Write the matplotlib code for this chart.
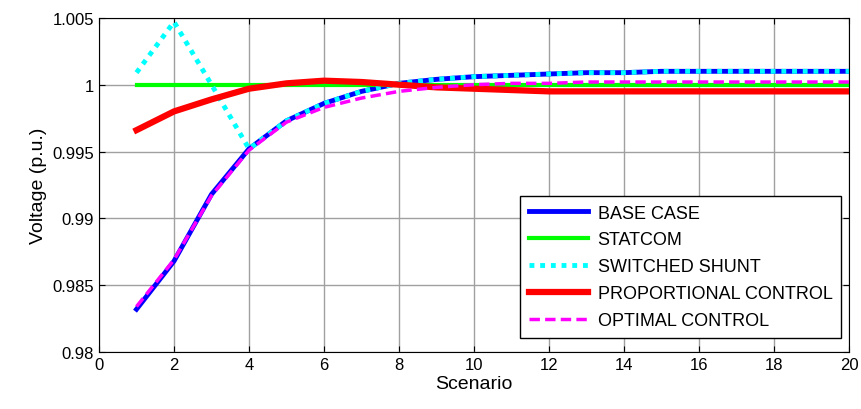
import matplotlib
matplotlib.use("Agg")
import matplotlib.pyplot as plt
import numpy as np

plt.rcParams['font.family'] = ['Liberation Sans', 'DejaVu Sans']

scenario = np.arange(1, 21)

base_case = [0.9832, 0.9868, 0.9918, 0.9952, 0.9973, 0.9986, 0.9995, 1.0001, 1.0004, 1.0006,
             1.0007, 1.0008, 1.0009, 1.0009, 1.0010, 1.0010, 1.0010, 1.0010, 1.0010, 1.0010]
statcom = [1.0] * 20
switched_shunt = [1.0009, 1.0047, 1.0000, 0.9952, 0.9973, 0.9986, 0.9995, 1.0001, 1.0004, 1.0006,
                  1.0007, 1.0008, 1.0009, 1.0009, 1.0010, 1.0010, 1.0010, 1.0010, 1.0010, 1.0010]
proportional = [0.9966, 0.9980, 0.9989, 0.9997, 1.0001, 1.0003, 1.0002, 1.0000, 0.9998, 0.9997,
                0.9996, 0.9995, 0.9995, 0.9995, 0.9995, 0.9995, 0.9995, 0.9995, 0.9995, 0.9995]
optimal = [0.9834, 0.9869, 0.9917, 0.9951, 0.9972, 0.9983, 0.9990, 0.9995, 0.9998, 1.0000,
           1.0001, 1.0001, 1.0002, 1.0002, 1.0002, 1.0002, 1.0002, 1.0002, 1.0002, 1.0002]

fig = plt.figure(figsize=(8.61, 4.10), dpi=100)
ax = fig.add_axes([0.115, 0.139, 0.871, 0.815])

ax.plot(scenario, base_case, color="#0000ff", lw=3.5, label="BASE CASE")
ax.plot(scenario, statcom, color="#00ff00", lw=3, label="STATCOM")
ax.plot(scenario, switched_shunt, color="#00ffff", lw=3.5, ls=(0, (1, 1.2)), label="SWITCHED SHUNT")
ax.plot(scenario, proportional, color="#ff0000", lw=4.5, label="PROPORTIONAL CONTROL")
ax.plot(scenario, optimal, color="#ff00ff", lw=2.5, ls=(0, (3, 1.5)), label="OPTIMAL CONTROL")

ax.set_xlim(0, 20)
ax.set_ylim(0.98, 1.005)
ax.set_xticks(np.arange(0, 21, 2))
ax.set_yticks([0.98, 0.985, 0.99, 0.995, 1.0, 1.005])
ax.set_yticklabels(["0.98", "0.985", "0.99", "0.995", "1", "1.005"])
ax.grid(True, color="#a0a0a0", lw=1)
ax.set_axisbelow(True)
ax.tick_params(direction="in", top=True, right=True, labelsize=12, length=4)
ax.set_xlabel("Scenario", fontsize=14, labelpad=2)
ax.set_ylabel("Voltage (p.u.)", fontsize=14)

leg = ax.legend(loc="lower right", bbox_to_anchor=(1.002, 0.014), fontsize=13, fancybox=False,
                framealpha=1, edgecolor="black", handlelength=3.3, handletextpad=0.5,
                labelspacing=0.55, borderpad=0.5)
leg.get_frame().set_linewidth(1)

fig.savefig("out.png", dpi=100)
